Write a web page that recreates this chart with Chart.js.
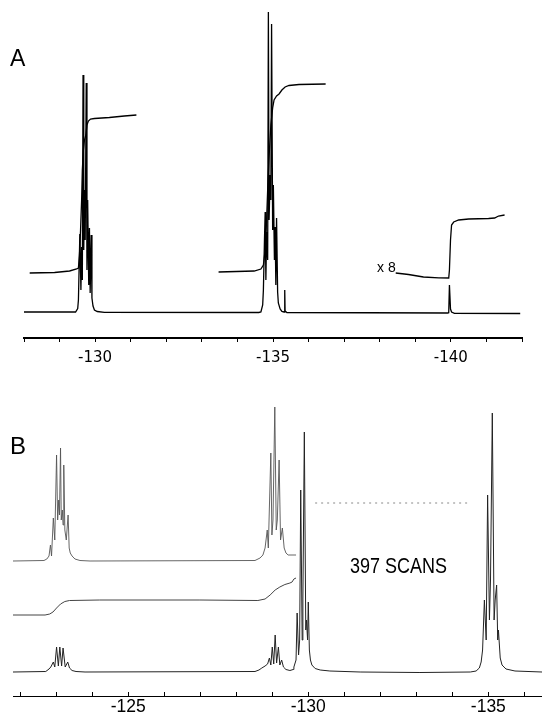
<!DOCTYPE html>
<html>
<head>
<meta charset="utf-8">
<script src="https://cdn.jsdelivr.net/npm/chart.js@4.4.1/dist/chart.umd.min.js"></script>
<style>
  html, body { margin: 0; padding: 0; background: #fff; overflow: hidden; }
  #wrap { position: relative; width: 542px; height: 713px; }
  canvas { position: absolute; left: 0; }
  #chartA { top: 0; }
  #chartB { top: 380px; }
  .lbl { position: absolute; font-family: "Liberation Sans", Arial, sans-serif; color: #000; line-height: 1; white-space: nowrap; }
  #scans { transform: scaleY(1.2); transform-origin: left top; }
</style>
</head>
<body>
<div id="wrap">
  <canvas id="chartA" width="542" height="374"></canvas>
  <canvas id="chartB" width="542" height="342"></canvas>
  <div class="lbl" style="left:10px;top:47px;font-size:23px;">A</div>
  <div class="lbl" style="left:10px;top:434px;font-size:24px;">B</div>
  <div class="lbl" style="left:377px;top:260px;font-size:14px;">x 8</div>
  <div class="lbl" id="scans" style="left:350px;top:555px;font-size:18px;">397 SCANS</div>
</div>
<script>
// tick labels (ppm)
const aTickLabels = [-130, -135, -140];
const bTickLabels = [-125, -130, -135];

// --- panel A: spectrum (ppm, intensity in arbitrary units) ---
const aSpecPpm = [-128.00, -129.45, -129.51, -129.53, -129.57, -129.60, -129.62, -129.64, -129.66, -129.68,
  -129.70, -129.72, -129.75, -129.77, -129.79, -129.82, -129.84, -129.86, -129.89, -129.91,
  -129.94, -129.98, -130.06, -130.26, -134.60, -134.66, -134.71, -134.73, -134.76, -134.78,
  -134.80, -134.82, -134.85, -134.87, -134.89, -134.92, -134.94, -134.96, -134.99, -135.01,
  -135.04, -135.06, -135.08, -135.10, -135.13, -135.15, -135.20, -135.25, -135.31, -135.33,
  -135.34, -135.39, -139.91, -139.94, -139.96, -139.99, -140.02, -140.10, -141.95];
const aSpecInt = [0.5, 0.5, 4, 12.5, 78.5, 22.5, 65.5, 32.5, 237.5, 62.5,
  122.5, 72.5, 229.5, 42.5, 112.5, 27.5, 84.5, 19.5, 77.5, 14.5,
  6.5, 2.5, 1, 0.2, 0, 0.5, 7.5, 22.5, 72.5, 100.5,
  32.5, 80.5, 52.5, 300.5, 92.5, 137.5, 112.5, 288.5, 82.5, 127.5,
  52.5, 85.5, 27.5, 94.5, 20.5, 9.5, 3.5, 1, 0.5, 22.5,
  1.5, 0, -0.5, -0.3, 27.5, 3.5, 0.5, -0.8, -1];

// panel A: integral traces
const aInt1Ppm = [-128.16, -128.86, -129.28, -129.48, -129.53, -129.56, -129.59, -129.62, -129.64, -129.67,
  -129.70, -129.74, -129.77, -129.81, -129.87, -129.98, -130.40, -130.82, -131.16];
const aInt1Val = [39.5, 40, 41.5, 43.5, 44.5, 57.5, 82.5, 112.5, 142.5, 162.5,
  172.5, 177.5, 187.5, 191.5, 193.5, 194, 195, 196.5, 197.5];
const aInt2Ppm = [-133.47, -134.47, -134.66, -134.73, -134.78, -134.82, -134.86, -134.90, -134.94, -134.99,
  -135.03, -135.10, -135.17, -135.25, -135.34, -135.45, -135.73, -136.48];
const aInt2Val = [40.5, 41.5, 43.5, 47.5, 62.5, 92.5, 132.5, 162.5, 187.5, 204.5,
  212.5, 216.5, 218.5, 222.5, 225.5, 227, 228, 228.5];
const aInt3Ppm = [-138.45, -138.81, -139.23, -139.66, -139.94, -139.96, -139.99, -140.02, -140.08, -140.22,
  -140.50, -141.06, -141.23, -141.34, -141.51];
const aInt3Val = [39.5, 38, 35.5, 34.7, 34.5, 42.5, 72.5, 87.5, 90.5, 92.5,
  93.5, 94, 94.5, 96.5, 97.5];

// --- panel B: lower spectrum ---
const bSpecPpm = [-121.80, -122.71, -122.80, -122.85, -122.92, -122.96, -123.01, -123.06, -123.10, -123.15,
  -123.19, -123.25, -123.32, -123.37, -123.44, -123.55, -123.80, -128.52, -128.63, -128.71,
  -128.80, -128.87, -128.92, -128.96, -129.00, -129.04, -129.08, -129.12, -129.17, -129.21,
  -129.26, -129.31, -129.38, -129.49, -129.58, -129.60, -129.66, -129.69, -129.73, -129.76,
  -129.79, -129.83, -129.85, -129.89, -129.93, -129.95, -129.98, -130.00, -130.03, -130.06,
  -130.10, -130.19, -130.33, -130.60, -131.44, -133.10, -134.50, -134.66, -134.75, -134.80,
  -134.84, -134.89, -134.94, -134.98, -135.03, -135.06, -135.11, -135.16, -135.19, -135.23,
  -135.26, -135.28, -135.33, -135.38, -135.49, -135.74, -136.49];
const bSpecInt = [0, 0.5, 3, 5, 10, 5, 25, 6, 25, 6,
  24, 5, 10, 4, 1.5, 0.5, 0, 0.5, 2, 4,
  6, 8, 14, 7, 25, 8, 37, 9, 25, 7,
  12, 5, 2.5, 1.5, 2.5, 5, 12, 59, 17, 32,
  182, 32, 72, 240, 42, 52, 32, 70, 22, 12,
  7, 3.5, 2, 1, 0, -0.5, 0, 1, 4, 10,
  22, 72, 32, 177, 52, 92, 259, 52, 72, 87,
  32, 42, 14, 7, 3, 1, 0];

// panel B: upper (high gain) spectrum
const bHighPpm = [-121.80, -122.66, -122.74, -122.80, -122.84, -122.87, -122.92, -122.96, -123.01, -123.04,
  -123.07, -123.09, -123.12, -123.14, -123.17, -123.19, -123.21, -123.24, -123.28, -123.33,
  -123.36, -123.39, -123.44, -123.52, -123.66, -123.94, -128.52, -128.66, -128.74, -128.80,
  -128.86, -128.89, -128.96, -128.99, -129.02, -129.07, -129.11, -129.14, -129.19, -129.23,
  -129.28, -129.33, -129.38, -129.44, -129.66];
const bHighInt = [111, 111.5, 113, 116, 127, 116, 154, 132, 217, 152,
  172, 157, 224, 152, 162, 147, 207, 142, 132, 157,
  124, 119, 116, 113, 111.5, 111, 111.5, 114, 117, 124,
  142, 124, 219, 137, 152, 265, 142, 152, 212, 132,
  144, 124, 119, 117, 117];

// panel B: integral and dotted level
const bIntPpm = [-121.80, -122.69, -122.82, -122.91, -123.01, -123.12, -123.24, -123.37, -124.21, -126.99,
  -128.60, -128.80, -128.94, -129.08, -129.21, -129.35, -129.49, -129.55, -129.60, -129.66];
const bIntVal = [57, 57, 58, 60, 64, 68, 70.5, 71.5, 72, 72,
  71.5, 73, 77, 82, 85, 87.5, 89, 90, 93, 94];
const bLevelPpm = [-130.19, -134.41];
const bLevelVal = [169, 169];

function pts(xs, ys) {
  return xs.map((x, i) => ({ x, y: ys[i] }));
}

function trace(xs, ys, color, width, dash) {
  return {
    data: pts(xs, ys),
    borderColor: color,
    borderWidth: width,
    borderDash: dash || [],
    pointRadius: 0,
    tension: 0,
    fill: false
  };
}

function xAxis(min, max, labels, font, tickLen, pad, borderW) {
  return {
    type: "linear",
    min, max,
    reverse: true,
    ticks: {
      stepSize: 1,
      includeBounds: false,
      autoSkip: false,
      maxRotation: 0,
      padding: pad,
      color: "#000",
      font,
      callback: v => labels.includes(v) ? String(v) : ""
    },
    grid: { drawOnChartArea: false, drawTicks: true, tickLength: tickLen, color: "#000", lineWidth: 1 },
    border: { display: true, color: "#000", width: borderW }
  };
}

function makeChart(id, datasets, x, yMin, yMax, padding) {
  return new Chart(document.getElementById(id), {
    type: "line",
    data: { datasets },
    options: {
      responsive: false,
      animation: false,
      layout: { padding },
      plugins: { legend: { display: false }, tooltip: { enabled: false } },
      scales: {
        x,
        y: { display: false, min: yMin, max: yMax }
      }
    }
  });
}

makeChart("chartA", [
  trace(aSpecPpm, aSpecInt, "#000", 1.3),
  trace(aInt1Ppm, aInt1Val, "#000", 1.3),
  trace(aInt2Ppm, aInt2Val, "#000", 1.3),
  trace(aInt3Ppm, aInt3Val, "#000", 1.3)
], xAxis(-142, -128, aTickLabels, { family: "DejaVu Sans", size: 15 }, 4, 7, 2),
  -25.5, 312.5, { left: 24, right: 20, top: 0, bottom: 0 });

makeChart("chartB", [
  trace(bSpecPpm, bSpecInt, "#222", 1),
  trace(bHighPpm, bHighInt, "#555", 0.9),
  trace(bIntPpm, bIntVal, "#444", 1),
  trace(bLevelPpm, bLevelVal, "#888", 1, [2, 4])
], xAxis(-136.49, -121.8, bTickLabels, { family: "Liberation Sans", size: 17.5 }, -4, 4.5, 1),
  -24, 292, { left: 13, right: 0, top: 0, bottom: 0 });
</script>
</body>
</html>
